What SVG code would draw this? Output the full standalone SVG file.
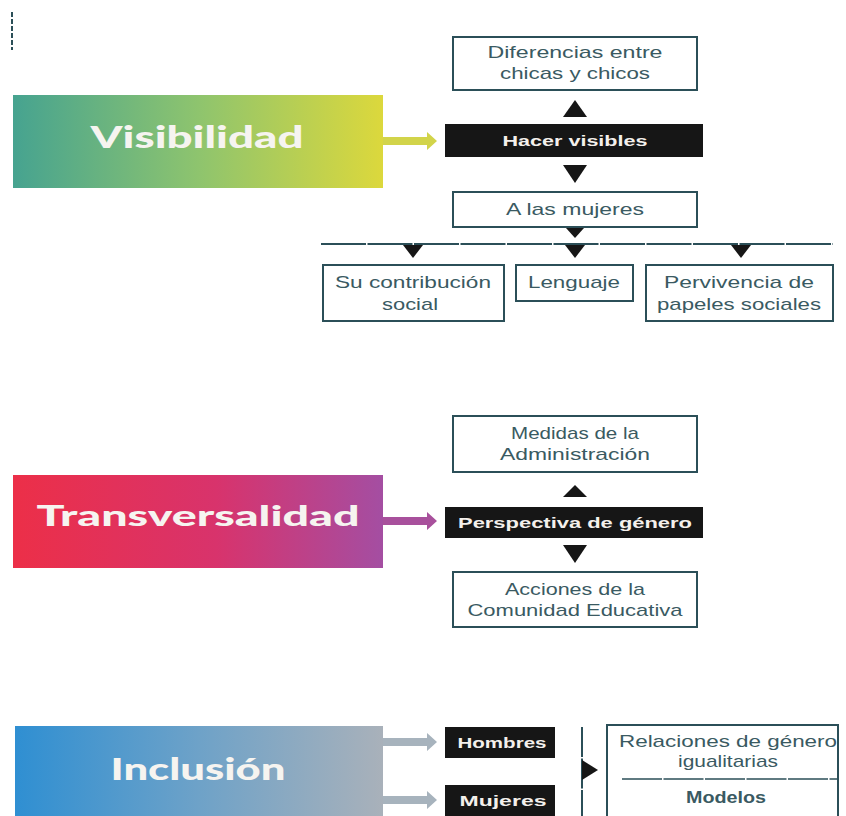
<svg xmlns="http://www.w3.org/2000/svg" width="846" height="816" viewBox="0 0 846 816">
<defs>
<linearGradient id="gVis" x1="0" y1="0" x2="1" y2="0">
<stop offset="0" stop-color="#46a390"/><stop offset="0.5" stop-color="#8ec46e"/><stop offset="1" stop-color="#dcd83c"/>
</linearGradient>
<linearGradient id="gTra" x1="0" y1="0" x2="1" y2="0">
<stop offset="0" stop-color="#ec2f48"/><stop offset="0.55" stop-color="#d8336c"/><stop offset="1" stop-color="#a44ea2"/>
</linearGradient>
<linearGradient id="gInc" x1="0" y1="0" x2="1" y2="0">
<stop offset="0" stop-color="#2f8fd2"/><stop offset="0.5" stop-color="#6ea2c8"/><stop offset="1" stop-color="#a9b1ba"/>
</linearGradient>
<style>
.box{fill:#fff;stroke:#2b4f58;stroke-width:2}
.blk{fill:#161616}
.tri{fill:#161616}
.t{font-family:"Liberation Sans",Arial,sans-serif;font-size:17px;fill:#3a5a62;text-anchor:middle}
.tw{font-family:"Liberation Sans",Arial,sans-serif;font-size:15px;font-weight:bold;fill:#f4f0ec;text-anchor:middle}
.title{font-family:Lato,"DejaVu Sans",sans-serif;font-weight:900;fill:#f6f4f0;text-anchor:middle}
</style>
</defs>

<line x1="12" y1="12" x2="12" y2="50" stroke="#2b4f58" stroke-width="2" stroke-dasharray="5 2"/>

<g id="visibilidad">
<rect x="13" y="95" width="370" height="93" fill="url(#gVis)"/>
<text class="title" x="197" y="148" font-size="30" textLength="213" lengthAdjust="spacingAndGlyphs">Visibilidad</text>
</g>
<g id="diferencias">
<rect class="box" x="453" y="37" width="244" height="53"/>
<text class="t" x="575" y="58" textLength="175" lengthAdjust="spacingAndGlyphs">Diferencias entre</text>
<text class="t" x="575" y="79" textLength="150" lengthAdjust="spacingAndGlyphs">chicas y chicos</text>
</g>
<g id="hacer-visibles">
<rect class="blk" x="445" y="124" width="258" height="33"/>
<text class="tw" x="575" y="146" textLength="145" lengthAdjust="spacingAndGlyphs">Hacer visibles</text>
</g>
<g id="a-las-mujeres">
<rect class="box" x="453" y="192" width="244" height="35"/>
<text class="t" x="575" y="215" textLength="138" lengthAdjust="spacingAndGlyphs">A las mujeres</text>
</g>
<g id="su-contribucion">
<rect class="box" x="323" y="265" width="181" height="56"/>
<text class="t" x="413" y="288" textLength="156" lengthAdjust="spacingAndGlyphs">Su contribución</text>
<text class="t" x="410" y="310" textLength="56" lengthAdjust="spacingAndGlyphs">social</text>
</g>
<g id="lenguaje">
<rect class="box" x="516" y="265" width="117" height="36"/>
<text class="t" x="574" y="288" textLength="92" lengthAdjust="spacingAndGlyphs">Lenguaje</text>
</g>
<g id="pervivencia">
<rect class="box" x="646" y="265" width="187" height="56"/>
<text class="t" x="739" y="288" textLength="150" lengthAdjust="spacingAndGlyphs">Pervivencia de</text>
<text class="t" x="739" y="310" textLength="164" lengthAdjust="spacingAndGlyphs">papeles sociales</text>
</g>

<g id="transversalidad">
<rect x="13" y="475" width="370" height="93" fill="url(#gTra)"/>
<text class="title" x="198" y="526" font-size="29" textLength="323" lengthAdjust="spacingAndGlyphs">Transversalidad</text>
</g>
<g id="medidas">
<rect class="box" x="453" y="416" width="244" height="56"/>
<text class="t" x="575" y="439" textLength="128" lengthAdjust="spacingAndGlyphs">Medidas de la</text>
<text class="t" x="575" y="460" textLength="150" lengthAdjust="spacingAndGlyphs">Administración</text>
</g>
<g id="perspectiva">
<rect class="blk" x="445" y="507" width="258" height="31"/>
<text class="tw" x="575" y="528" textLength="234" lengthAdjust="spacingAndGlyphs">Perspectiva de género</text>
</g>
<g id="acciones">
<rect class="box" x="453" y="572" width="244" height="55"/>
<text class="t" x="575" y="595" textLength="140" lengthAdjust="spacingAndGlyphs">Acciones de la</text>
<text class="t" x="575" y="616" textLength="215" lengthAdjust="spacingAndGlyphs">Comunidad Educativa</text>
</g>

<g id="inclusion">
<rect x="15" y="726" width="368" height="100" fill="url(#gInc)"/>
<text class="title" x="198" y="780" font-size="31" font-weight="700" textLength="175" lengthAdjust="spacingAndGlyphs">Inclusión</text>
</g>
<g id="hombres">
<rect class="blk" x="445" y="727" width="110" height="31"/>
<text class="tw" x="502" y="748" textLength="89" lengthAdjust="spacingAndGlyphs">Hombres</text>
</g>
<g id="mujeres">
<rect class="blk" x="445" y="785" width="110" height="40"/>
<text class="tw" x="503" y="806" textLength="87" lengthAdjust="spacingAndGlyphs">Mujeres</text>
</g>
<g id="relaciones">
<rect class="box" x="607" y="725" width="231" height="100"/>
<text class="t" x="728" y="747" textLength="218" lengthAdjust="spacingAndGlyphs">Relaciones de género</text>
<text class="t" x="728" y="767" textLength="100" lengthAdjust="spacingAndGlyphs">igualitarias</text>
<line x1="622" y1="779" x2="838" y2="779" stroke="#2b4f58" stroke-width="1.5" stroke-dasharray="40 1.5"/>
<text class="t" x="726" y="803" font-weight="bold" textLength="80" lengthAdjust="spacingAndGlyphs">Modelos</text>
</g>

<g id="connectors">
<path d="M383 137 H427 V132 L437 141 L427 150 V145 H383 Z" fill="#d2d44a"/>
<path d="M383 517 H427 V512 L437 521 L427 530 V525 H383 Z" fill="#a8509c"/>
<path d="M383 738 H427 V733 L437 742 L427 751 V746 H383 Z" fill="#a7b3bd"/>
<path d="M383 796 H427 V791 L437 800 L427 809 V804 H383 Z" fill="#a7b3bd"/>
<polygon class="tri" points="563,117 587,117 575,100"/>
<polygon class="tri" points="563,165 587,165 575,183"/>
<polygon class="tri" points="566,228 584,228 575,238"/>
<line x1="321" y1="244" x2="833" y2="244" stroke="#2b4f58" stroke-width="2" stroke-dasharray="45 1.5"/>
<polygon class="tri" points="403,245 423,245 413,258"/>
<polygon class="tri" points="565,245 585,245 575,258"/>
<polygon class="tri" points="731,245 751,245 741,258"/>
<polygon class="tri" points="563,497 587,497 575,485"/>
<polygon class="tri" points="563,545 587,545 575,563"/>
<line x1="582" y1="727" x2="582" y2="816" stroke="#2b4f58" stroke-width="2" stroke-dasharray="30 1.5"/>
<polygon class="tri" points="582,760 582,780 598,770"/>
</g>
</svg>
